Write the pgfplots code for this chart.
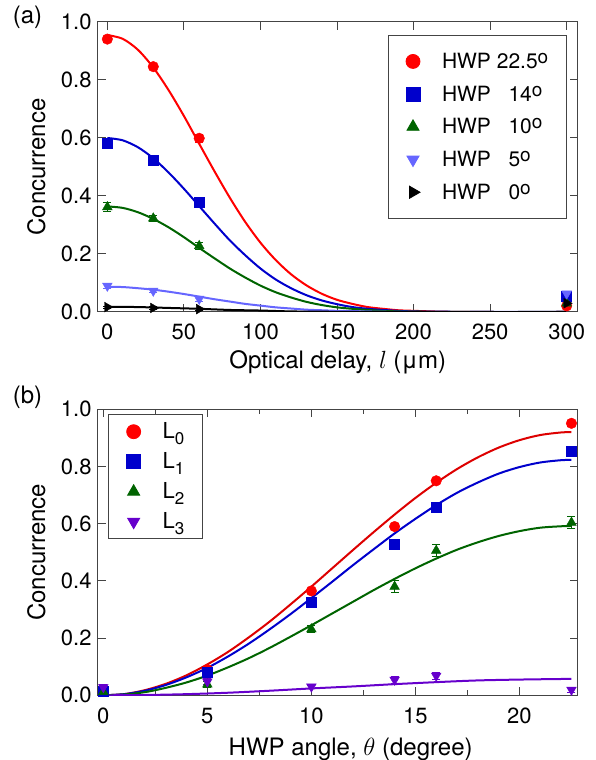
\documentclass[border=0pt]{standalone}
\usepackage{pgfplots}
\pgfplotsset{compat=1.18}
\usepackage{fontspec}
\setmainfont{TeX Gyre Heros}
\definecolor{cred}{HTML}{FF0000}
\definecolor{cbred}{HTML}{DD0000}
\definecolor{cblue}{HTML}{0000CC}
\definecolor{cgreen}{HTML}{006400}
\definecolor{clblue}{HTML}{6666FF}
\definecolor{cpurple}{HTML}{6600CC}
\definecolor{frame}{HTML}{444444}
\newcommand{\dg}{\raisebox{5pt}{\fontsize{19}{19}\selectfont o}}
\newcommand{\sub}[1]{\raisebox{-6pt}{\fontsize{17}{17}\selectfont #1}}

\pgfplotsset{
  panel/.style={
    scale only axis, width=480pt, anchor=south west,
    axis line style={frame, line width=1pt},
    every tick/.style={frame, line width=1pt},
    major tick length=8pt, minor tick length=5pt,
    tick align=inside,
    ymin=0, ymax=1, ytick={0,0.2,0.4,0.6,0.8,1},
    /pgf/number format/assume math mode=true,
    tick label style={font=\fontsize{22}{26}\selectfont},
    yticklabel style={/pgf/number format/fixed, /pgf/number format/fixed zerofill,
      /pgf/number format/precision=1, anchor=east, inner sep=0pt, xshift=-6pt},
    xticklabel style={anchor=base, inner sep=0pt, yshift=-28pt},
    ylabel={Concurrence},
    every axis y label/.style={at={(axis description cs:-0.128,0.5)}, rotate=90, anchor=center},
    legend cell align=left,
    legend image post style={mark size=7pt},
    legend style={draw=frame, line width=0.8pt,
      inner xsep=18pt, column sep=22pt,
      nodes={inner sep=0pt, text height=16pt, text depth=2pt}},
  },
  fit/.style={no marks, smooth, line width=2pt, forget plot},
  pts/.style={only marks, mark size=5.3pt,
    error bars/y dir=both, error bars/y explicit,
    error bars/error bar style={line width=0.8pt},
    error bars/error mark options={rotate=90, mark size=4pt, line width=0.8pt}},
}

\begin{document}
\fontsize{24}{28}\selectfont
\begin{tikzpicture}
\path[use as bounding box] (0,0) rectangle (595pt,760pt);
\node at (27.5pt,743pt) {(a)};
\node at (27.5pt,363pt) {(b)};

% (a) concurrence against optical delay
\begin{axis}[panel, at={(97.7pt,448pt)}, height=290pt,
  xmin=-6.3, xmax=307.2, xtick={0,50,100,150,200,250,300},
  xlabel={Optical delay, $l$ (μm)},
  every axis x label/.style={at={(axis description cs:0.5,-0.194)}, anchor=base},
  legend style={at={(0.977,0.955)}, anchor=north east, row sep=14.7pt, inner ysep=17pt,
    font=\fontsize{21}{25}\selectfont},
]
\addplot[fit, cred] coordinates {(0,0.955)(10,0.942)(20,0.904)(30,0.843)(40,0.765)(50,0.676)(60,0.580)(70,0.485)(80,0.394)(90,0.311)(100,0.239)(110,0.179)(120,0.130)(130,0.092)(140,0.063)(150,0.042)(160,0.028)(170,0.017)(180,0.011)(190,0.006)(200,0.004)(220,0.001)(250,0)(300,0)};
\addplot[fit, cblue] coordinates {(0,0.600)(10,0.592)(20,0.568)(30,0.530)(40,0.481)(50,0.425)(60,0.365)(70,0.305)(80,0.247)(90,0.196)(100,0.150)(110,0.112)(120,0.082)(130,0.058)(140,0.040)(150,0.027)(160,0.017)(170,0.011)(180,0.007)(190,0.004)(200,0.002)(220,0.001)(250,0)(300,0)};
\addplot[fit, cgreen] coordinates {(0,0.364)(10,0.359)(20,0.344)(30,0.321)(40,0.292)(50,0.258)(60,0.221)(70,0.185)(80,0.150)(90,0.119)(100,0.091)(110,0.068)(120,0.050)(130,0.035)(140,0.024)(150,0.016)(160,0.011)(170,0.007)(180,0.004)(190,0.002)(200,0.001)(250,0)(300,0)};
\addplot[fit, clblue] coordinates {(0,0.087)(10,0.086)(20,0.082)(30,0.077)(40,0.070)(50,0.062)(60,0.053)(70,0.044)(80,0.036)(90,0.028)(100,0.022)(110,0.016)(120,0.012)(130,0.008)(140,0.006)(150,0.004)(160,0.003)(170,0.002)(180,0.001)(200,0)(250,0)(300,0)};
\addplot[fit, black] coordinates {(0,0.018)(20,0.017)(40,0.014)(60,0.011)(80,0.007)(100,0.005)(120,0.002)(140,0.001)(160,0.0005)(200,0)(300,0)};

\addplot[pts, cred, mark=*] coordinates {(0,0.941) +- (0,0.01) (30,0.846) +- (0,0.01) (60,0.599) +- (0,0.015) (300,0.021) +- (0,0.01)};
\addlegendentry{HWP 22.5\dg}
\addplot[pts, cblue, mark=square*, mark size=5pt] coordinates {(0,0.582) +- (0,0.01) (30,0.524) +- (0,0.01) (60,0.377) +- (0,0.01) (300,0.055) +- (0,0.01)};
\addlegendentry{HWP \hphantom{2}14\dg}
\addplot[pts, cgreen, mark=triangle*, mark size=5.6pt] coordinates {(0,0.362) +- (0,0.015) (30,0.323) +- (0,0.01) (60,0.228) +- (0,0.012) (300,0.030) +- (0,0.01)};
\addlegendentry{HWP \hphantom{2}10\dg}
\addplot[pts, clblue, mark=triangle*, mark size=5.6pt, mark options={rotate=180}] coordinates {(0,0.090) +- (0,0.008) (30,0.073) +- (0,0.006) (60,0.045) +- (0,0.008) (300,0.063) +- (0,0.008)};
\addlegendentry{HWP \hphantom{2}5\dg}
\addplot[pts, black, mark=triangle*, mark size=5.6pt, mark options={rotate=-90}] coordinates {(0,0.017) +- (0,0.004) (30,0.014) +- (0,0.004) (60,0.010) +- (0,0.004) (300,0.030) +- (0,0.005)};
\addlegendentry{HWP \hphantom{2}0\dg}
\end{axis}

% (b) concurrence against HWP angle
\begin{axis}[panel, at={(97.7pt,64.7pt)}, height=286pt,
  xmin=-0.27, xmax=22.8, xtick={0,5,10,15,20}, minor x tick num=1,
  xlabel={HWP angle, $\theta$ (degree)},
  every axis x label/.style={at={(axis description cs:0.527,-0.209)}, anchor=base},
  legend style={at={(0.022,0.9825)}, anchor=north west, row sep=12pt, inner ysep=8pt,
    font=\fontsize{22}{26}\selectfont},
]
\addplot[fit, cbred] coordinates {(0,0)(1,0.004)(2,0.018)(3,0.040)(4,0.070)(5,0.108)(6,0.152)(7,0.203)(8,0.258)(9,0.318)(10,0.380)(11,0.444)(12,0.508)(13,0.571)(14,0.632)(15,0.690)(16,0.743)(17,0.791)(18,0.832)(19,0.866)(20,0.892)(21,0.910)(22,0.919)(22.5,0.920)};
\addplot[fit, cblue] coordinates {(0,0)(1,0.004)(2,0.016)(3,0.036)(4,0.063)(5,0.096)(6,0.136)(7,0.181)(8,0.231)(9,0.284)(10,0.340)(11,0.397)(12,0.455)(13,0.511)(14,0.566)(15,0.617)(16,0.665)(17,0.708)(18,0.744)(19,0.775)(20,0.798)(21,0.814)(22,0.822)(22.5,0.823)};
\addplot[fit, cgreen] coordinates {(0,0)(1,0.003)(2,0.011)(3,0.026)(4,0.045)(5,0.069)(6,0.098)(7,0.130)(8,0.166)(9,0.205)(10,0.245)(11,0.286)(12,0.327)(13,0.368)(14,0.407)(15,0.444)(16,0.478)(17,0.509)(18,0.535)(19,0.557)(20,0.574)(21,0.586)(22,0.591)(22.5,0.592)};
\addplot[fit, cpurple] coordinates {(0,0)(2,0.001)(4,0.004)(6,0.009)(8,0.016)(10,0.024)(12,0.031)(14,0.039)(16,0.046)(18,0.052)(20,0.055)(22,0.057)(22.5,0.057)};

\addplot[pts, cred, mark=*] coordinates {(0,0.015) +- (0,0.005) (5,0.090) +- (0,0.008) (10,0.365) +- (0,0.01) (14,0.590) +- (0,0.01) (16,0.750) +- (0,0.01) (22.5,0.951) +- (0,0.01)};
\addlegendentry{L\sub{0}}
\addplot[pts, cblue, mark=square*, mark size=5pt] coordinates {(0,0.016) +- (0,0.005) (5,0.080) +- (0,0.008) (10,0.324) +- (0,0.01) (14,0.529) +- (0,0.01) (16,0.659) +- (0,0.01) (22.5,0.855) +- (0,0.01)};
\addlegendentry{L\sub{1}}
\addplot[pts, cgreen, mark=triangle*, mark size=5.6pt] coordinates {(0,0.012) +- (0,0.01) (5,0.038) +- (0,0.01) (10,0.231) +- (0,0.012) (14,0.380) +- (0,0.02) (16,0.506) +- (0,0.02) (22.5,0.604) +- (0,0.02)};
\addlegendentry{L\sub{2}}
\addplot[pts, cpurple, mark=triangle*, mark size=5.6pt, mark options={rotate=180}] coordinates {(0,0.028) +- (0,0.01) (5,0.048) +- (0,0.01) (10,0.030) +- (0,0.005) (14,0.054) +- (0,0.012) (16,0.068) +- (0,0.012) (22.5,0.019) +- (0,0.008)};
\addlegendentry{L\sub{3}}
\end{axis}
\end{tikzpicture}
\end{document}
